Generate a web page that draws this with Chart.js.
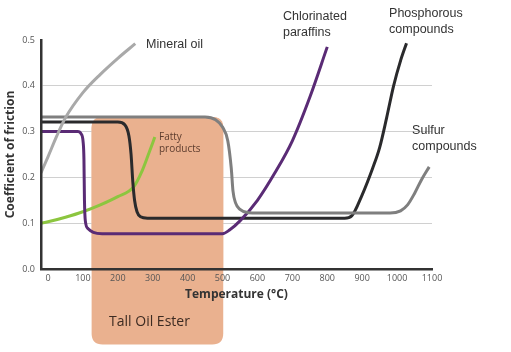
<!DOCTYPE html>
<html>
<head>
<meta charset="utf-8">
<script src="https://cdn.jsdelivr.net/npm/chart.js@4.4.0/dist/chart.umd.min.js"></script>
<style>
  html, body { margin: 0; padding: 0; background: #fff; }
  #wrap { width: 511px; height: 352px; }
</style>
</head>
<body>
<div id="wrap"><canvas id="frictionChart"></canvas></div>
<script>
// axis ticks
const xTicks = [0, 100, 200, 300, 400, 500, 600, 700, 800, 900, 1000, 1100];
const yTicks = [0, 0.1, 0.2, 0.3, 0.4, 0.5];

// curves (temperature °C -> coefficient of friction)
const mineralT    = [-20, 0, 25, 50, 100, 150, 200, 250];
const mineralCoef = [0.21, 0.245, 0.29, 0.33, 0.385, 0.425, 0.46, 0.492];

const fattyT    = [-20, 0, 50, 100, 150, 200, 245, 270, 290, 306];
const fattyCoef = [0.10, 0.103, 0.113, 0.125, 0.14, 0.158, 0.179, 0.215, 0.255, 0.288];

const chlorT    = [-20, 85, 95, 101, 103, 104.5, 107, 115, 130, 155, 500, 520, 550, 600, 650, 700, 750, 800];
const chlorCoef = [0.30, 0.30, 0.295, 0.275, 0.24, 0.15, 0.105, 0.088, 0.08, 0.077, 0.077, 0.085, 0.105, 0.15, 0.21, 0.28, 0.375, 0.485];

const phosT    = [-20, 200, 220, 232, 238, 243, 248, 255, 265, 285, 850, 870, 900, 930, 950, 970, 990, 1010, 1027];
const phosCoef = [0.321, 0.321, 0.315, 0.29, 0.25, 0.19, 0.15, 0.125, 0.114, 0.111, 0.111, 0.116, 0.162, 0.22, 0.265, 0.33, 0.40, 0.455, 0.493];

const sulfurT    = [-20, 450, 480, 500, 515, 525, 530, 537, 550, 575, 600, 980, 1010, 1030, 1050, 1070, 1092];
const sulfurCoef = [0.332, 0.332, 0.326, 0.31, 0.28, 0.22, 0.17, 0.145, 0.13, 0.123, 0.122, 0.122, 0.127, 0.14, 0.165, 0.195, 0.223];

// shaded "Tall Oil Ester" band (data units)
const esterRange = { from: 125, to: 502, top: 0.332, bottom: -0.165 };

// text labels, anchored in data units
const seriesLabels = [
  { lines: ['Mineral oil'], t: 281, c: 0.491 },
  { lines: ['Chlorinated', 'paraffins'], t: 673, c: 0.552 },
  { lines: ['Phosphorous', 'compounds'], t: 977, c: 0.557 },
  { lines: ['Sulfur', 'compounds'], t: 1043, c: 0.303 }
];
const fattyLabel = { lines: ['Fatty', 'products'], t: 318, c: 0.288 };
const esterLabel = { text: 'Tall Oil Ester', t: 175, c: -0.116 };

const zip = (xs, ys) => xs.map((x, i) => ({ x: x, y: ys[i] }));

function roundRect(ctx, x, y, w, h, r) {
  ctx.beginPath();
  ctx.moveTo(x + r, y);
  ctx.lineTo(x + w - r, y);
  ctx.quadraticCurveTo(x + w, y, x + w, y + r);
  ctx.lineTo(x + w, y + h - r);
  ctx.quadraticCurveTo(x + w, y + h, x + w - r, y + h);
  ctx.lineTo(x + r, y + h);
  ctx.quadraticCurveTo(x, y + h, x, y + h - r);
  ctx.lineTo(x, y + r);
  ctx.quadraticCurveTo(x, y, x + r, y);
  ctx.closePath();
}

function drawBand(chart, clipToArea) {
  const { ctx, chartArea, scales: { x, y } } = chart;
  const left = x.getPixelForValue(esterRange.from);
  const right = x.getPixelForValue(esterRange.to);
  const top = y.getPixelForValue(esterRange.top);
  const bottom = y.getPixelForValue(esterRange.bottom);
  ctx.save();
  if (clipToArea) {
    ctx.beginPath();
    ctx.rect(chartArea.left, chartArea.top, chartArea.right - chartArea.left, chartArea.bottom - chartArea.top - 1);
    ctx.clip();
  }
  ctx.fillStyle = '#eab18f';
  roundRect(ctx, left, top, right - left, bottom - top, 11);
  ctx.fill();
  ctx.restore();
}

const bandPlugin = {
  id: 'esterBand',
  beforeDraw(chart) { drawBand(chart, false); },
  beforeDatasetsDraw(chart) { drawBand(chart, true); }
};

const textPlugin = {
  id: 'curveLabels',
  afterDraw(chart) {
    const { ctx, scales: { x, y } } = chart;
    ctx.save();
    ctx.textBaseline = 'middle';
    ctx.textAlign = 'left';
    ctx.fillStyle = '#333';
    ctx.font = '12.5px "Liberation Sans", Arial, sans-serif';
    seriesLabels.forEach(l => {
      const px = x.getPixelForValue(l.t);
      const py = y.getPixelForValue(l.c);
      l.lines.forEach((s, i) => ctx.fillText(s, px, py + i * 16));
    });
    ctx.fillStyle = '#5e3d2e';
    ctx.font = '10px "Open Sans", sans-serif';
    fattyLabel.lines.forEach((s, i) => {
      ctx.fillText(s, x.getPixelForValue(fattyLabel.t), y.getPixelForValue(fattyLabel.c) + i * 12);
    });
    ctx.fillStyle = '#3d2b22';
    ctx.font = '14px "Open Sans", sans-serif';
    ctx.fillText(esterLabel.text, x.getPixelForValue(esterLabel.t), y.getPixelForValue(esterLabel.c));
    ctx.restore();
  }
};

const lineStyle = {
  pointRadius: 0,
  borderWidth: 3,
  cubicInterpolationMode: 'monotone',
  fill: false
};

new Chart(document.getElementById('frictionChart'), {
  type: 'line',
  data: {
    datasets: [
      Object.assign({ label: 'Mineral oil', data: zip(mineralT, mineralCoef), borderColor: '#a9a9a9' }, lineStyle),
      Object.assign({ label: 'Sulfur compounds', data: zip(sulfurT, sulfurCoef), borderColor: '#7f7f7f' }, lineStyle),
      Object.assign({ label: 'Chlorinated paraffins', data: zip(chlorT, chlorCoef), borderColor: '#5a2b75' }, lineStyle),
      Object.assign({ label: 'Phosphorous compounds', data: zip(phosT, phosCoef), borderColor: '#2a2a2c' }, lineStyle),
      Object.assign({ label: 'Fatty products', data: zip(fattyT, fattyCoef), borderColor: '#8cc63f' }, lineStyle)
    ]
  },
  options: {
    responsive: true,
    maintainAspectRatio: false,
    animation: false,
    layout: { padding: { top: 40, right: 79, left: 0, bottom: 48 } },
    plugins: {
      legend: { display: false },
      tooltip: { enabled: false }
    },
    scales: {
      x: {
        type: 'linear',
        min: -20,
        max: 1100,
        afterFit: (scale) => { scale.height = 35; },
        afterBuildTicks: (scale) => { scale.ticks = xTicks.map(v => ({ value: v })); },
        grid: { display: false, drawTicks: false },
        border: { display: true, color: '#333', width: 2.5, z: 1 },
        ticks: {
          padding: 4,
          maxRotation: 0,
          color: '#555',
          font: { family: '"Open Sans", sans-serif', size: 9 },
          callback: (v) => String(v)
        },
        title: {
          display: true,
          text: 'Temperature (°C)',
          color: '#333',
          padding: { top: 0, bottom: 2 },
          font: { family: '"Open Sans", sans-serif', size: 12, weight: 'bold' }
        }
      },
      y: {
        min: 0,
        max: 0.5,
        afterFit: (scale) => { scale.width = 41; },
        afterBuildTicks: (scale) => { scale.ticks = yTicks.map(v => ({ value: v })); },
        grid: {
          drawTicks: false,
          color: (c) => (c.tick && c.tick.value > 0.05 && c.tick.value < 0.45) ? '#d0d0d0' : 'rgba(0,0,0,0)',
          lineWidth: 1
        },
        border: { display: true, color: '#333', width: 2.5, z: 1 },
        ticks: {
          padding: 6,
          color: '#555',
          font: { family: '"Open Sans", sans-serif', size: 9 },
          callback: (v) => Number(v).toFixed(1)
        },
        title: {
          display: true,
          text: 'Coefficient of friction',
          color: '#333',
          padding: { top: 3, bottom: 0 },
          font: { family: '"Open Sans", sans-serif', size: 12, weight: 'bold' }
        }
      }
    }
  },
  plugins: [bandPlugin, textPlugin]
});
</script>
</body>
</html>
